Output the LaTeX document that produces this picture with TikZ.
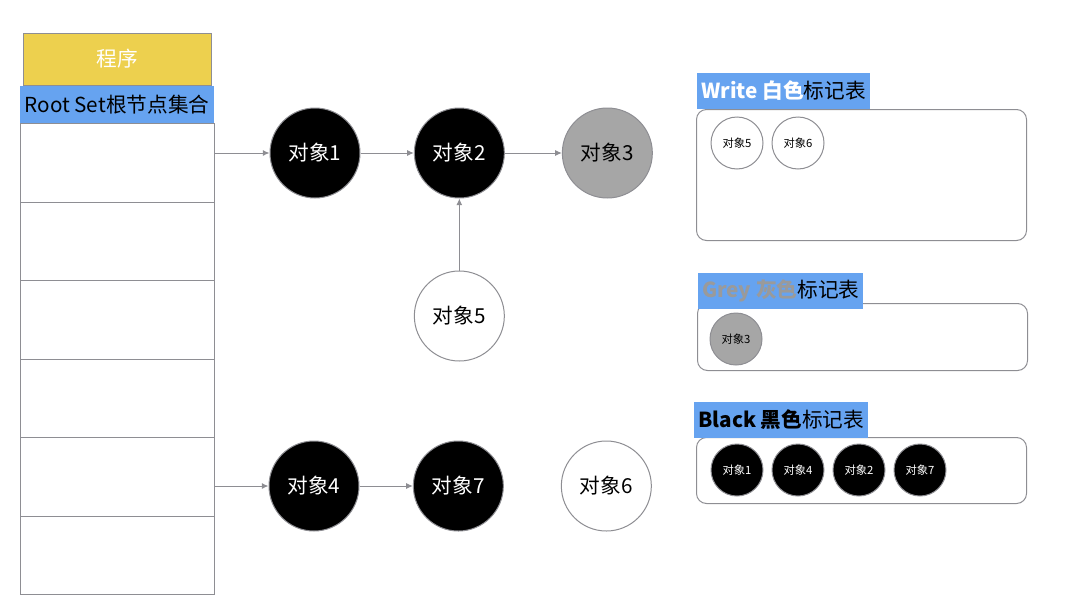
\documentclass[tikz,border=0pt]{standalone}
\usepackage{fontspec}
\setmainfont{Noto Sans CJK SC}
\usetikzlibrary{arrows.meta,positioning}
\definecolor{progyellow}{HTML}{EDD04E}
\definecolor{tagblue}{HTML}{66A3F0}
\definecolor{edgegray}{HTML}{8E8E93}
\definecolor{greyfill}{HTML}{A6A6A6}
\definecolor{greytext}{HTML}{9A9A9A}

\begin{document}
\begin{tikzpicture}[
  x=0.75pt, y=-0.75pt,
  node distance=40pt,
  obj/.style={circle, draw=edgegray, line width=0.75pt, minimum size=67.5pt,
    inner sep=0pt, font=\fontsize{15.5}{18}\selectfont},
  blackobj/.style={obj, fill=black, text=white},
  greyobj/.style={obj, fill=greyfill},
  whiteobj/.style={obj, fill=white},
  mini/.style={obj, minimum size=39pt, font=\fontsize{8.5}{10}\selectfont},
  cell/.style={draw=edgegray, line width=0.75pt, minimum width=145.5pt,
    minimum height=58.9pt, inner sep=0pt},
  listbox/.style={draw=edgegray, line width=0.75pt, rounded corners=7.5pt,
    minimum width=247.5pt, inner sep=0pt},
  tag/.style={fill=tagblue, minimum height=27pt, inner xsep=3pt,
    inner ysep=0pt, font=\fontsize{15.5}{18}\selectfont},
  arrow/.style={draw=edgegray, line width=0.75pt,
    -{Latex[length=5pt,width=4.5pt]}}
]
\useasboundingbox (0,0) rectangle (1080,614);

% root set column
\node[draw=edgegray, line width=0.75pt, fill=progyellow, text=white,
  minimum width=141pt, minimum height=39pt, inner sep=0pt,
  font=\fontsize{15.5}{18}\selectfont] (prog) at (117,59) {程序};
\node[fill=tagblue, minimum width=145.5pt, minimum height=27.75pt, inner sep=0pt,
  font=\fontsize{15.5}{18}\selectfont] (root) at (117,104.5) {Root Set根节点集合};
\foreach \i in {1,...,6}
  \node[cell, anchor=north] (c\i) at (117,123+78.5*\i-78.5) {};

% objects
\node[blackobj] (o1) at (315,153) {对象1};
\node[blackobj, right=of o1] (o2) {对象2};
\node[greyobj, right=42.75pt of o2] (o3) {对象3};
\node[whiteobj, below=54pt of o2] (o5) {对象5};
\node[blackobj] (o4) at (314,486) {对象4};
\node[blackobj, right=of o4] (o7) {对象7};
\node[whiteobj, right=42.75pt of o7] (o6) {对象6};

\draw[arrow] (c1.east |- o1) -- (o1);
\draw[arrow] (o1) -- (o2);
\draw[arrow] (o2) -- (o3);
\draw[arrow] (o5) -- (o2);
\draw[arrow] (c5.east |- o4) -- (o4);
\draw[arrow] (o4) -- (o7);

% white list
\node[listbox, minimum height=98.25pt, anchor=north west] (wbox) at (696,109) {};
\node[tag, anchor=south west] (wtag) at (697,109)
  {{\color{white}\bfseries Write 白色}标记表};
\node[mini, fill=white] (w5) at (737,143) {对象5};
\node[mini, fill=white, right=6pt of w5] (w6) {对象6};

% grey list
\node[listbox, minimum height=50.25pt, anchor=north west] (gbox) at (697,303) {};
\node[tag, anchor=south west] (gtag) at (698,309)
  {{\color{greytext}\bfseries Grey 灰色}标记表};
\node[mini, fill=greyfill] (g3) at (736,339) {对象3};

% black list
\node[listbox, minimum height=49.5pt, anchor=north west] (bbox) at (696,437) {};
\node[tag, anchor=south west] (btag) at (694,438)
  {{\bfseries Black 黑色}标记表};
\node[mini, fill=black, text=white] (b1) at (737,470) {对象1};
\node[mini, fill=black, text=white, right=6pt of b1] (b4) {对象4};
\node[mini, fill=black, text=white, right=6pt of b4] (b2) {对象2};
\node[mini, fill=black, text=white, right=6pt of b2] (b7) {对象7};
\end{tikzpicture}
\end{document}
